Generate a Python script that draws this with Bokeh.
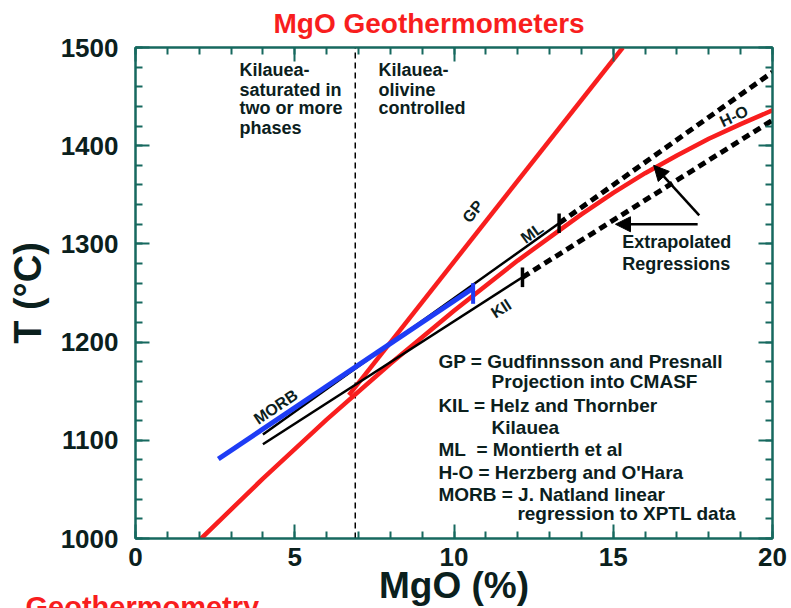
import math
from bokeh.plotting import figure
from bokeh.models import (Range1d, LinearAxis, SingleIntervalTicker, Title,
                          Arrow, NormalHead, ColumnDataSource, CustomJSTickFormatter)
from bokeh.core.properties import value
from bokeh.embed import file_html
from bokeh.resources import INLINE

# ---------------- data ----------------
ho_mgo = [2, 4, 6, 8, 10, 12, 14, 15, 16, 17, 18, 19, 20]
ho_t = [998, 1061, 1121, 1178, 1232, 1283, 1330, 1352, 1372, 1390, 1407, 1422, 1436]

gp_mgo = [6.7, 15.3]
gp_t = [1146, 1500]

morb_mgo = [2.6, 10.6]
morb_t = [1081, 1255]

ml_mgo = [4.0, 13.3]
ml_t = [1106, 1321]
ml_ext_mgo = [13.3, 20.0]
ml_ext_t = [1321, 1475]

kil_mgo = [4.0, 12.15]
kil_t = [1096, 1266]
kil_ext_mgo = [12.15, 20.0]
kil_ext_t = [1266, 1426]

end_tick_mgo = [13.3, 12.15]
end_tick_t0 = [1311, 1256]
end_tick_t1 = [1331, 1276]
morb_tick_mgo = [10.6]
morb_tick_t0 = [1239]
morb_tick_t1 = [1260]

boundary_mgo = [6.9, 6.9]
boundary_t = [1000, 1500]

arrow_x0 = [17.7, 17.65]
arrow_y0 = [1329, 1320]
arrow_x1 = [16.27, 15.07]
arrow_y1 = [1380, 1320]

line_labels = ["GP", "ML", "KIl", "H-O", "MORB"]
line_label_x = [10.59, 12.45, 11.48, 18.79, 4.40]
line_label_y = [1333, 1311, 1234, 1430, 1134]
line_label_deg = [51.7, 35.6, 32.7, 25.5, 33.9]

left_note = ["Kilauea-", "saturated in", "two or more", "phases"]
right_note = ["Kilauea-", "olivine", "controlled"]
note_y = [1476.6, 1457.2, 1437.9, 1418.5]

extrap_lines = ["Extrapolated", "Regressions"]
extrap_y = [1301.7, 1279.7]

key_lines = ["GP = Gudfinnsson and Presnall", "Projection into CMASF",
             "KIL = Helz and Thornber", "Kilauea", "ML\u00a0 = Montierth et al",
             "H-O = Herzberg and O'Hara", "MORB = J. Natland linear",
             "regression to XPTL data"]
key_x = [9.51, 11.18, 9.51, 11.18, 9.51, 9.51, 9.51, 11.99]
key_y = [1180.5, 1160.2, 1135.4, 1112.7, 1090.3, 1067.5, 1044.5, 1025.8]

# ---------------- styles ----------------
FONT = "Liberation Sans"
TEAL = "#16695f"
INK = "#0b201d"
RED = "#f81e1e"
BLUE = "#1e3cf5"
W, H = 789, 608

p = figure(width=W, height=H, x_range=Range1d(0, 20), y_range=Range1d(1000, 1500),
           min_border_left=135, min_border_right=W - 772, min_border_top=47,
           min_border_bottom=H - 538, toolbar_location=None, output_backend="svg")
p.xgrid.visible = False
p.ygrid.visible = False
p.outline_line_color = TEAL
p.outline_line_width = 2
p.background_fill_color = "white"
p.border_fill_color = "white"

p.title.text = "MgO Geothermometers"
p.title.text_font = FONT
p.title.text_font_style = "bold"
p.title.text_font_size = "28px"
p.title.text_color = RED
p.title.align = "left"
p.title.offset = 138
p.title.vertical_align = "top"
p.title.standoff = 13

def style_axis(ax, show_labels):
    ax.axis_line_color = TEAL
    ax.axis_line_width = 2
    ax.major_tick_line_color = TEAL
    ax.minor_tick_line_color = TEAL
    ax.major_tick_line_width = 2
    ax.minor_tick_line_width = 2
    ax.major_tick_in = 14
    ax.major_tick_out = 0
    ax.minor_tick_in = 7
    ax.minor_tick_out = 0
    if show_labels:
        ax.major_label_text_font = FONT
        ax.major_label_text_font_style = "bold"
        ax.major_label_text_font_size = "26px"
        ax.major_label_text_color = INK
        ax.axis_label_text_font = FONT
        ax.axis_label_text_font_style = "bold"
        ax.axis_label_text_color = INK
    else:
        ax.formatter = CustomJSTickFormatter(code="return ''")
        ax.major_label_text_font_size = "0px"
        ax.major_label_standoff = 0

p.xaxis.ticker = SingleIntervalTicker(interval=5, num_minor_ticks=5)
p.yaxis.ticker = SingleIntervalTicker(interval=100, num_minor_ticks=5)
style_axis(p.xaxis[0], True)
style_axis(p.yaxis[0], True)
p.xaxis.major_label_standoff = 9
p.yaxis.major_label_standoff = 17
p.xaxis.axis_label = "MgO (%)"
p.xaxis.axis_label_text_font_size = "37px"
p.xaxis.axis_label_standoff = -4
p.yaxis.axis_label = "T (°C)"
p.yaxis.axis_label_text_font_size = "38px"
p.yaxis.axis_label_standoff = 9

top_ax = LinearAxis(ticker=SingleIntervalTicker(interval=5, num_minor_ticks=5))
right_ax = LinearAxis(ticker=SingleIntervalTicker(interval=100, num_minor_ticks=5))
style_axis(top_ax, False)
style_axis(right_ax, False)
p.add_layout(top_ax, "above")
p.add_layout(right_ax, "right")

# caption at the bottom edge (partly outside the picture in the reference)
p.add_layout(Title(text="Geothermometry", text_font=FONT, text_font_style="bold",
                   text_font_size="29px", text_color=RED, align="left",
                   offset=-110, vertical_align="top", standoff=-35), "below")

# ---------------- lines ----------------
p.line(boundary_mgo, boundary_t, line_color="black", line_width=1.5, line_dash="6 4")
p.line(ho_mgo, ho_t, line_color=RED, line_width=4.5)
p.line(gp_mgo, gp_t, line_color=RED, line_width=4.5)
p.line(ml_ext_mgo, ml_ext_t, line_color="black", line_width=5, line_dash="8 5")
p.line(kil_ext_mgo, kil_ext_t, line_color="black", line_width=5, line_dash="8 5")
p.line(ml_mgo, ml_t, line_color="black", line_width=2.5)
p.line(kil_mgo, kil_t, line_color="black", line_width=2.5)
p.line(morb_mgo, morb_t, line_color=BLUE, line_width=5)
p.segment(end_tick_mgo, end_tick_t0, end_tick_mgo, end_tick_t1,
          line_color="black", line_width=3.5)
p.segment(morb_tick_mgo, morb_tick_t0, morb_tick_mgo, morb_tick_t1,
          line_color=BLUE, line_width=4)

for i in range(len(arrow_x0)):
    p.add_layout(Arrow(end=NormalHead(size=15, fill_color="black", line_color="black"),
                       x_start=arrow_x0[i], y_start=arrow_y0[i],
                       x_end=arrow_x1[i], y_end=arrow_y1[i],
                       line_color="black", line_width=2.5))

# ---------------- texts inside the frame ----------------
def txt(xs, ys, texts, size, angle=None, align="left"):
    src = ColumnDataSource(dict(x=xs, y=ys, text=texts,
                                angle=angle if angle else [0] * len(xs)))
    p.text(x="x", y="y", text="text", angle="angle", source=src,
           text_font=value(FONT), text_font_style="bold", text_font_size=size,
           text_color=INK, text_align=align, text_baseline="middle")

txt(line_label_x, line_label_y, line_labels, "16px",
    angle=[math.radians(a) for a in line_label_deg], align="center")
txt([3.265] * len(left_note), note_y[:len(left_note)], left_note, "18px")
txt([7.63] * len(right_note), note_y[:len(right_note)], right_note, "18px")
txt([15.28] * 2, extrap_y, extrap_lines, "18px")
txt(key_x, key_y, key_lines, "19px")

open("out.html", "w").write(file_html(p, INLINE))
